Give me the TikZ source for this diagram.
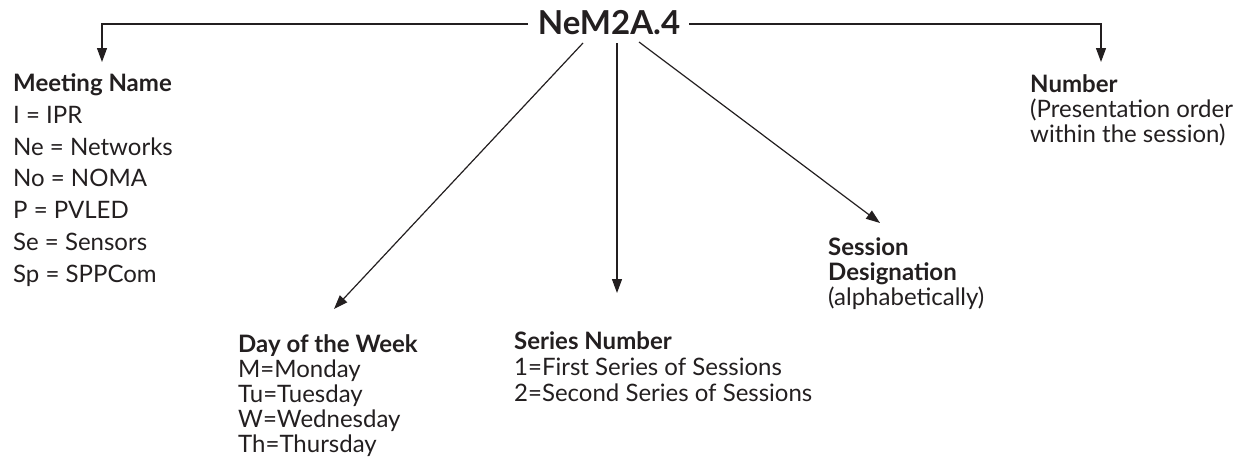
\documentclass[tikz,border=0pt]{standalone}
\usepackage{fontspec}
\setmainfont{Lato}
\usetikzlibrary{arrows.meta}
\definecolor{ink}{HTML}{231F20}
\tikzset{
  conn/.style={draw=ink, line width=1.2pt, -{Triangle[length=14pt,width=10pt]}},
  head/.style={font=\fontsize{33}{36}\selectfont\bfseries, text=ink, inner sep=0pt},
  blk/.style={anchor=base west, align=left, inner sep=0pt, text=ink},
}
\newcommand{\bh}[1]{\textbf{#1}}
\begin{document}
\begin{tikzpicture}[x=1pt,y=-1pt]
\useasboundingbox (0,0) rectangle (1244,461);
\node[head, anchor=base] (t) at (609,34) {NeM2A.4};
\coordinate (tl) at (528,24);
\coordinate (tr) at (689,24);
\coordinate (c1) at (583,43);
\coordinate (c2) at (617,43);
\coordinate (c3) at (639,42);
\coordinate (e0) at (102,62);
\coordinate (e1) at (334,309);
\coordinate (e2) at (617,293);
\coordinate (e3) at (880,223);
\coordinate (e4) at (1101,62);
\draw[conn] (tl) -| (e0);
\draw[conn] (tr) -| (e4);
\draw[conn] (c1) -- (e1);
\draw[conn] (c2) -- (e2);
\draw[conn] (c3) -- (e3);
\node[blk, font=\fontsize{24}{31.7}\selectfont] (meet) at (13,282)
  {\bh{Meeting Name}\\I = IPR\\Ne = Networks\\No = NOMA\\P = PVLED\\Se = Sensors\\Sp = SPPCom};
\node[blk, font=\fontsize{24}{25}\selectfont] (day) at (238,452)
  {\bh{Day of the Week}\\M=Monday\\Tu=Tuesday\\W=Wednesday\\Th=Thursday};
\node[blk, font=\fontsize{24}{26}\selectfont] (ser) at (514,401)
  {\bh{Series Number}\\1=First Series of Sessions\\2=Second Series of Sessions};
\node[blk, font=\fontsize{24}{25}\selectfont] (ses) at (828,305)
  {\bh{Session}\\\bh{Designation}\\(alphabetically)};
\node[blk, font=\fontsize{24}{25}\selectfont] (num) at (1030,142)
  {\bh{Number}\\(Presentation order\\within the session)};
\end{tikzpicture}
\end{document}
